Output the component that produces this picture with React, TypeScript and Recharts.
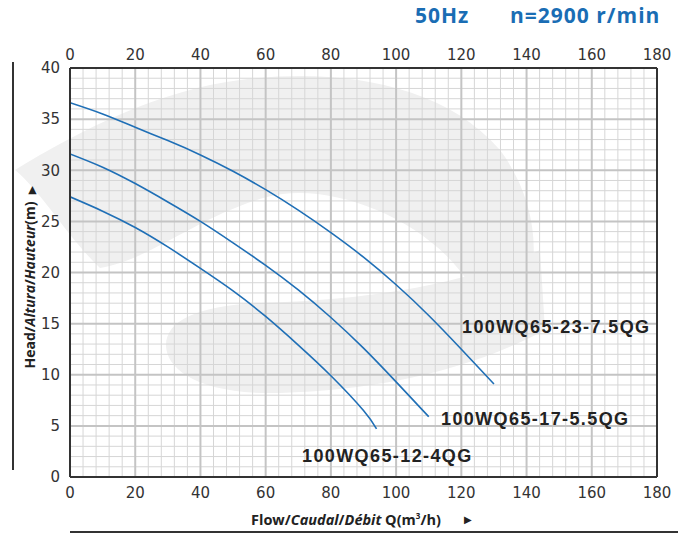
import React from 'react';
import { LineChart, Line, XAxis, YAxis, ReferenceLine } from 'recharts';

// flow Q (m3/h) ticks and head H (m) ticks
const flowTicks = [0, 20, 40, 60, 80, 100, 120, 140, 160, 180];
const headTicks = [0, 5, 10, 15, 20, 25, 30, 35, 40];

// pump curves
const curve23 = [
  { q: 0, h: 36.6 }, { q: 10, h: 35.5 }, { q: 20, h: 34.2 }, { q: 30, h: 32.9 },
  { q: 40, h: 31.5 }, { q: 50, h: 29.9 }, { q: 60, h: 28.1 }, { q: 70, h: 26.1 },
  { q: 80, h: 23.9 }, { q: 90, h: 21.5 }, { q: 100, h: 18.8 }, { q: 110, h: 15.8 },
  { q: 120, h: 12.5 }, { q: 130, h: 9.1 },
];
const curve17 = [
  { q: 0, h: 31.6 }, { q: 10, h: 30.3 }, { q: 20, h: 28.7 }, { q: 30, h: 26.9 },
  { q: 40, h: 25.0 }, { q: 50, h: 22.9 }, { q: 60, h: 20.7 }, { q: 70, h: 18.3 },
  { q: 80, h: 15.6 }, { q: 90, h: 12.6 }, { q: 100, h: 9.3 }, { q: 110, h: 5.9 },
];
const curve12 = [
  { q: 0, h: 27.4 }, { q: 10, h: 26.0 }, { q: 20, h: 24.4 }, { q: 30, h: 22.5 },
  { q: 40, h: 20.4 }, { q: 50, h: 18.2 }, { q: 60, h: 15.7 }, { q: 70, h: 12.9 },
  { q: 80, h: 9.9 }, { q: 90, h: 6.5 }, { q: 94, h: 4.7 },
];

const minorFlow = Array.from({ length: 46 }, (_, i) => i * 4).filter((v) => v % 20 !== 0);
const minorHead = Array.from({ length: 41 }, (_, i) => i).filter((v) => v % 5 !== 0);

const blue = '#1f6fb6';
const tickStyle = { fontFamily: 'DejaVu Sans', fontSize: 15, fill: '#333' };
const curveLabel: React.CSSProperties = {
  position: 'absolute',
  fontFamily: 'Liberation Sans',
  fontWeight: 'bold',
  fontSize: 18,
  letterSpacing: 1.4,
  color: '#222',
  whiteSpace: 'nowrap',
  lineHeight: 1,
};
const titleStyle: React.CSSProperties = {
  position: 'absolute',
  top: 5,
  fontFamily: 'Open Sans',
  fontWeight: 'bold',
  fontSize: 21,
  letterSpacing: 1,
  color: '#1a6db4',
  whiteSpace: 'nowrap',
  lineHeight: 1,
};

export default function App() {
  return (
    <div style={{ position: 'absolute', left: 0, top: 0, width: 678, height: 535, background: '#fff', overflow: 'hidden' }}>
      {/* faint watermark behind the chart */}
      <svg width={678} height={535} style={{ position: 'absolute', left: 0, top: 0 }}>
        <path
          d="M 15 170 C 80 130, 160 90, 240 80 C 330 68, 440 80, 500 150 C 530 190, 540 240, 530 280 L 470 285 C 430 220, 330 180, 267 197 C 200 215, 150 260, 100 268 C 70 240, 40 190, 15 170 Z"
          fill="#f0f0f0"
        />
        <path
          d="M 166 345 C 166 320, 200 305, 260 303 C 350 300, 450 290, 540 250 L 545 330 C 470 370, 380 390, 280 393 C 200 395, 166 370, 166 345 Z"
          fill="#f0f0f0"
        />
      </svg>
      <div style={{ position: 'absolute', left: 0, top: 0 }}>
        <LineChart width={678} height={535} data={curve23} margin={{ top: 40, right: 21, bottom: 28, left: 0 }}>
          {minorFlow.map((v) => (
            <ReferenceLine key={'mf' + v} x={v} xAxisId="b" stroke="#d6d6d6" strokeWidth={1} />
          ))}
          {minorHead.map((v) => (
            <ReferenceLine key={'mh' + v} y={v} xAxisId="b" stroke="#d6d6d6" strokeWidth={1} />
          ))}
          {flowTicks.map((v) => (
            <ReferenceLine key={'Mf' + v} x={v} xAxisId="b" stroke="#c4c4c4" strokeWidth={2} />
          ))}
          {headTicks.map((v) => (
            <ReferenceLine key={'Mh' + v} y={v} xAxisId="b" stroke="#c4c4c4" strokeWidth={2} />
          ))}
          <XAxis
            xAxisId="b"
            dataKey="q"
            type="number"
            domain={[0, 180]}
            ticks={flowTicks}
            allowDataOverflow
            height={30}
            tickLine={false}
            axisLine={{ stroke: '#333', strokeWidth: 2 }}
            tick={tickStyle}
            tickMargin={4}
          />
          <XAxis
            xAxisId="t"
            orientation="top"
            dataKey="q"
            type="number"
            domain={[0, 180]}
            ticks={flowTicks}
            height={28}
            tickLine={false}
            axisLine={{ stroke: '#333', strokeWidth: 2 }}
            tick={tickStyle}
            tickMargin={2}
          />
          <YAxis
            dataKey="h"
            type="number"
            domain={[0, 40]}
            ticks={headTicks}
            width={70}
            tickLine={false}
            axisLine={{ stroke: '#333', strokeWidth: 2 }}
            tick={tickStyle}
            tickMargin={4}
          />
          <ReferenceLine x={180} xAxisId="b" stroke="#333" strokeWidth={2} />
          <Line xAxisId="b" data={curve23} dataKey="h" type="natural" stroke={blue} strokeWidth={1.6} dot={false} isAnimationActive={false} />
          <Line xAxisId="b" data={curve17} dataKey="h" type="natural" stroke={blue} strokeWidth={1.6} dot={false} isAnimationActive={false} />
          <Line xAxisId="b" data={curve12} dataKey="h" type="natural" stroke={blue} strokeWidth={1.6} dot={false} isAnimationActive={false} />
        </LineChart>
      </div>

      <div style={{ ...titleStyle, left: 415 }}>50Hz</div>
      <div style={{ ...titleStyle, left: 510 }}>n=2900 r/min</div>

      <div style={{ ...curveLabel, left: 462, top: 318 }}>100WQ65-23-7.5QG</div>
      <div style={{ ...curveLabel, left: 441, top: 410 }}>100WQ65-17-5.5QG</div>
      <div style={{ ...curveLabel, left: 302, top: 447 }}>100WQ65-12-4QG</div>

      {/* y axis title */}
      <div style={{ position: 'absolute', left: 12, top: 62, width: 1.5, height: 408, background: '#333' }} />
      <div
        style={{
          position: 'absolute',
          left: 30,
          top: 277,
          transform: 'translate(-50%, -50%) rotate(-90deg)',
          fontFamily: 'Open Sans',
          fontWeight: 'bold',
          fontSize: 14,
          color: '#222',
          whiteSpace: 'nowrap',
          lineHeight: 1,
        }}
      >
        Head/<i>Altura</i>/<i>Hauteur</i>(m)
        <span style={{ fontSize: 10, marginLeft: 8, fontStyle: 'normal' }}>{'\u25B6'}</span>
      </div>

      {/* x axis title */}
      <div
        style={{
          position: 'absolute',
          left: 251,
          top: 512,
          fontFamily: 'Open Sans',
          fontWeight: 'bold',
          fontSize: 14.5,
          color: '#222',
          whiteSpace: 'nowrap',
          lineHeight: 1,
        }}
      >
        Flow/<i>Caudal</i>/<i>Débit</i> Q(m<sup style={{ fontSize: 8 }}>3</sup>/h)
      </div>
      <div style={{ position: 'absolute', left: 464, top: 515, fontSize: 10, color: '#222', lineHeight: 1 }}>{'\u25B6'}</div>
      <div style={{ position: 'absolute', left: 70, top: 531, width: 608, height: 2, background: '#333' }} />
    </div>
  );
}
